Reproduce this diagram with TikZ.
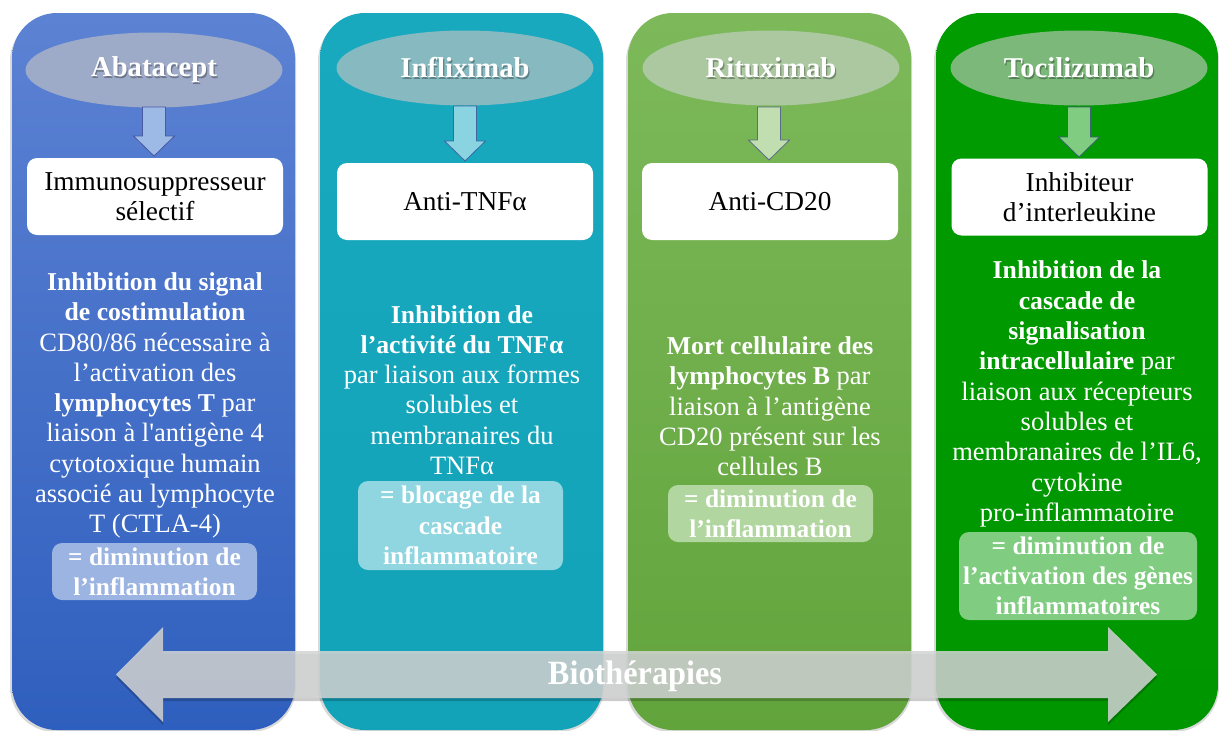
\documentclass[tikz,border=0pt]{standalone}
\usepackage{fontspec}
\setmainfont{LiberationSerif}[Extension=.ttf, UprightFont=*-Regular, BoldFont=*-Bold, ItalicFont=*-Italic, BoldItalicFont=*-BoldItalic]
\usetikzlibrary{shapes.geometric}
\definecolor{cAtop}{HTML}{5C82D3}
\definecolor{cAbot}{HTML}{2F5FBE}
\definecolor{cBtop}{HTML}{18A9BF}
\definecolor{cBbot}{HTML}{12A3B9}
\definecolor{cCtop}{HTML}{7DB95A}
\definecolor{cCbot}{HTML}{62A43C}
\definecolor{cDtop}{HTML}{009C00}
\definecolor{cDbot}{HTML}{009600}
\definecolor{eA}{HTML}{9DAAC8}
\definecolor{eB}{HTML}{86BAC0}
\definecolor{eC}{HTML}{ABC8A0}
\definecolor{eD}{HTML}{7BB87A}
\definecolor{aA}{HTML}{9DB9E6}
\definecolor{aB}{HTML}{8AD4E2}
\definecolor{aC}{HTML}{C0DEB0}
\definecolor{aD}{HTML}{80CC80}
\definecolor{rA}{HTML}{9BB4E2}
\definecolor{rB}{HTML}{8FD6E0}
\definecolor{rC}{HTML}{B2D6A0}
\definecolor{rD}{HTML}{80CC80}
\definecolor{bigarrow}{HTML}{D2D4D4}
\newcommand\dnarrow[4]{% x, ytop, ybot, colour
  \draw[fill=#4, draw=#4!60!black!80!blue, line width=0.8pt]
    (#1-11.5,#2) -- (#1+11.5,#2) -- (#1+11.5,#3-20) -- (#1+20.5,#3-20)
    -- (#1,#3) -- (#1-20.5,#3-20) -- (#1-11.5,#3-20) -- cycle;}
\newcommand\bb[1]{{\fontsize{25.7}{30.3}\selectfont\bfseries #1}}
\begin{document}
\begin{tikzpicture}[x=1pt,y=-1pt,
  colshadow/.style={fill=black, opacity=0.15, rounded corners=45pt},
  title/.style={ellipse, minimum width=257pt, minimum height=75pt, inner sep=0pt},
  titletext/.style={text=white, font=\fontsize{28.7}{30}\selectfont\bfseries},
  titleshadow/.style={text=black, opacity=0.3, font=\fontsize{28.7}{30}\selectfont\bfseries},
  whitebox/.style={fill=white, rounded corners=10pt, minimum width=256pt, minimum height=77pt,
    inner sep=0pt, align=center, font=\fontsize{27.3}{30.5}\selectfont},
  body/.style={text=white, align=center, inner sep=0pt, font=\fontsize{26.5}{30.3}\selectfont},
  result/.style={rounded corners=10pt, inner sep=0pt, text=white, align=center,
    font=\fontsize{25.4}{30.3}\selectfont\bfseries},
]
\useasboundingbox (0,0) rectangle (1219,731);
\fill[white] (0,0) rectangle (1219,731);

% column shadows
\foreach \xa/\xb in {12/295, 320/603, 628/911, 936/1218}{
  \fill[colshadow] (\xa-2,16) rectangle (\xb+1,732);
}
% columns
\shade[top color=cAtop, bottom color=cAbot, rounded corners=45pt] (12,13) rectangle (295,730);
\shade[top color=cBtop, bottom color=cBbot, rounded corners=45pt] (320,13) rectangle (603,730);
\shade[top color=cCtop, bottom color=cCbot, rounded corners=45pt] (628,13) rectangle (911,730);
\shade[top color=cDtop, bottom color=cDbot, rounded corners=45pt] (936,13) rectangle (1218,730);

% title ellipses
\node[title, fill=eA] (eA) at (154,70) {};
\node[title, fill=eB] (eB) at (465,68) {};
\node[title, fill=eC] (eC) at (771,68) {};
\node[title, fill=eD] (eD) at (1079,68) {};
\foreach \n/\t in {eA/Abatacept, eB/Infliximab, eC/Rituximab, eD/Tocilizumab}{
  \node[titleshadow] (\n s) at ([xshift=1.2pt,yshift=-1.5pt]\n.center) {\t};
  \node[titletext] (\n t) at (\n.center) {\t};
}

% down arrows
\dnarrow{154}{107}{156}{aA}
\dnarrow{465}{106}{161}{aB}
\dnarrow{769}{107}{160}{aC}
\dnarrow{1079}{107}{157}{aD}

% white boxes
\node[whitebox] (wA) at (155,196.5) {Immunosuppresseur\\sélectif};
\node[whitebox] (wB) at (465,201.5) {Anti-TNFα};
\node[whitebox] (wC) at (770,201.5) {Anti-CD20};
\node[whitebox] (wD) at (1079.5,197) {Inhibiteur\\d’interleukine};

% body texts
\node[body] (bA) at (155,405.5) {\bb{Inhibition du signal}\\\bb{de costimulation}\\CD80/86 nécessaire à\\l’activation des\\\bb{lymphocytes T} par\\liaison à l\textquotesingle antigène 4\\cytotoxique humain\\associé au lymphocyte\\T (CTLA-4)};
\node[body] (bB) at (462,390) {\bb{Inhibition de}\\\bb{l’activité du TNFα}\\par liaison aux formes\\solubles et\\membranaires du\\TNFα};
\node[body] (bC) at (770,406.5) {\bb{Mort cellulaire des}\\\bb{lymphocytes B} par\\liaison à l’antigène\\CD20 présent sur les\\cellules B};
\node[body] (bD) at (1077,394) {\bb{Inhibition de la}\\\bb{cascade de}\\\bb{signalisation}\\\bb{intracellulaire} par\\liaison aux récepteurs\\solubles et\\membranaires de l’IL6,\\cytokine\\pro-inflammatoire};

% result boxes
\node[result, fill=rA, minimum width=205pt, minimum height=57pt] (rA) at (154.5,571.5) {= diminution de\\l’inflammation};
\node[result, fill=rB, minimum width=205pt, minimum height=89pt] (rB) at (460.5,525.5) {= blocage de la\\cascade\\inflammatoire};
\node[result, fill=rC, minimum width=205pt, minimum height=57pt] (rC) at (770.5,513.5) {= diminution de\\l’inflammation};
\node[result, fill=rD, minimum width=238pt, minimum height=88pt] (rD) at (1078,576) {= diminution de\\l’activation des gènes\\inflammatoires};

% big double arrow
\fill[black, opacity=0.2] (116,677.5) -- (163,630) -- (163,654) -- (1108,654) -- (1108,630)
  -- (1157,677.5) -- (1108,725) -- (1108,701) -- (163,701) -- (163,725) -- cycle;
\fill[bigarrow, opacity=0.86] (116,674.5) -- (163,627) -- (163,651) -- (1108,651) -- (1108,627)
  -- (1157,674.5) -- (1108,722) -- (1108,698) -- (163,698) -- (163,722) -- cycle;
\node[text=white, font=\fontsize{34}{36}\selectfont\bfseries] (bio) at (635,676) {\scalebox{0.95}[1]{Biothérapies}};
\end{tikzpicture}
\end{document}
